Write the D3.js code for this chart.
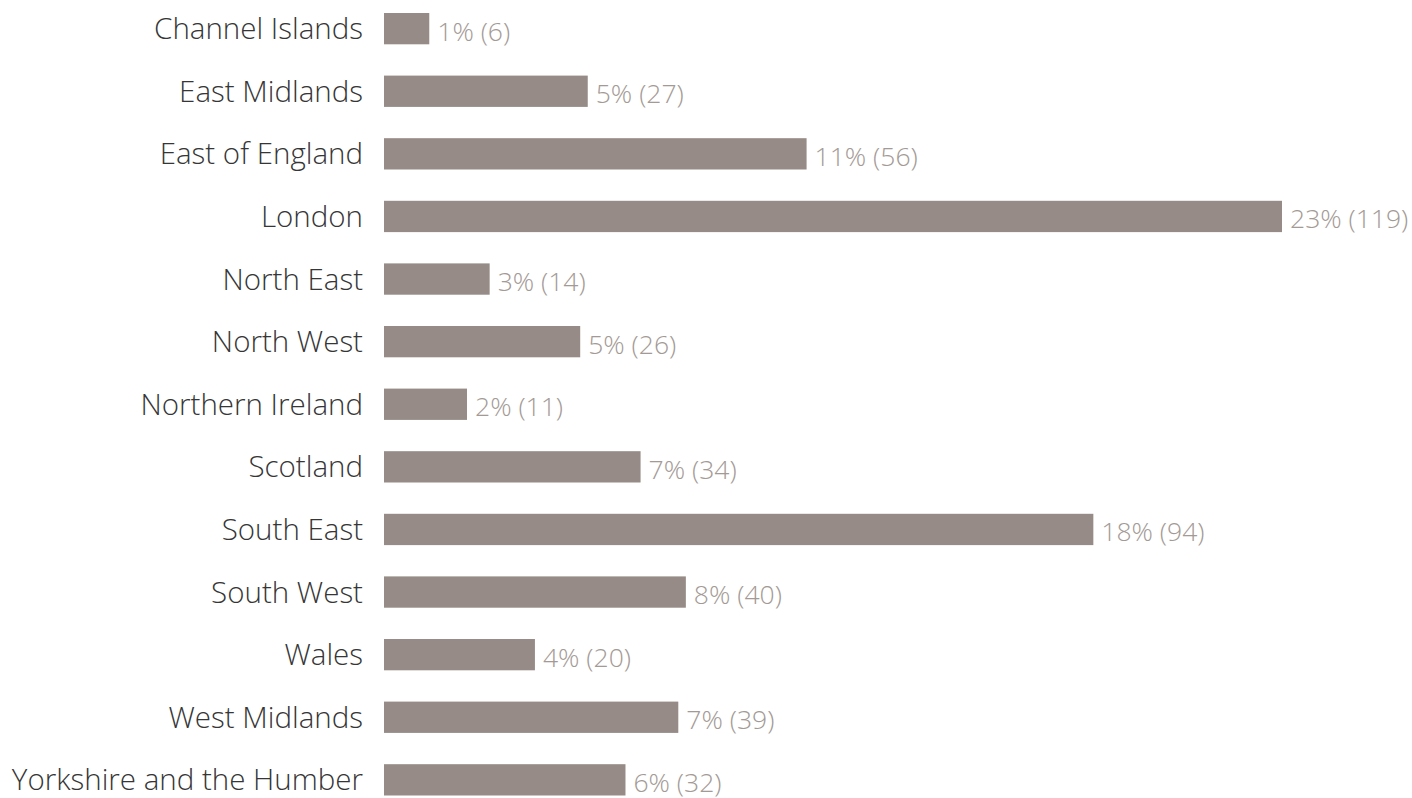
<!DOCTYPE html>
<html>
<head>
<meta charset="utf-8">
<script src="https://cdn.jsdelivr.net/npm/d3@7"></script>
<style>
body { margin: 0; background: #fff; }
svg { display: block; }
.cat { font-family: "Open Sans", Lato, sans-serif; font-weight: 300; font-size: 29.5px; fill: #363636; }
.val { font-family: "Open Sans", Lato, sans-serif; font-weight: 300; font-size: 26.5px; fill: #a39a95; }
</style>
</head>
<body>
<svg id="bar" width="1412" height="798"></svg>
<script>
var regions = ["Channel Islands", "East Midlands", "East of England", "London", "North East",
  "North West", "Northern Ireland", "Scotland", "South East", "South West", "Wales",
  "West Midlands", "Yorkshire and the Humber"];
var counts = [6, 27, 56, 119, 14, 26, 11, 34, 94, 40, 20, 39, 32];
var percents = [1, 5, 11, 23, 3, 5, 2, 7, 18, 8, 4, 7, 6];

var svg = d3.select("#bar");

var x = d3.scaleLinear().domain([0, 119]).range([384, 1282]);
var y = d3.scaleBand().domain(regions).range([13, 795.5]).paddingInner(0.5).paddingOuter(0);

var data = regions.map(function(r, i) { return {name: r, count: counts[i], pct: percents[i]}; });

var g = svg.append("g");

g.selectAll(".bar")
  .data(data)
  .enter().append("rect")
  .attr("class", "bar")
  .attr("x", x(0))
  .attr("y", function(d) { return y(d.name); })
  .attr("width", function(d) { return x(d.count) - x(0); })
  .attr("height", y.bandwidth())
  .attr("fill", "#968b86");

// region names, right aligned against the bars
g.selectAll(".cat")
  .data(data)
  .enter().append("text")
  .attr("class", "cat")
  .attr("x", x(0) - 21)
  .attr("y", function(d) { return y(d.name) + y.bandwidth() / 2 + 10.5; })
  .attr("text-anchor", "end")
  .text(function(d) { return d.name; });

g.selectAll(".val")
  .data(data)
  .enter().append("text")
  .attr("class", "val")
  .attr("x", function(d) { return x(d.count) + 8; })
  .attr("y", function(d) { return y(d.name) + y.bandwidth() / 2 + 12; })
  .text(function(d) { return d.pct + "% (" + d.count + ")"; });
</script>
</body>
</html>
